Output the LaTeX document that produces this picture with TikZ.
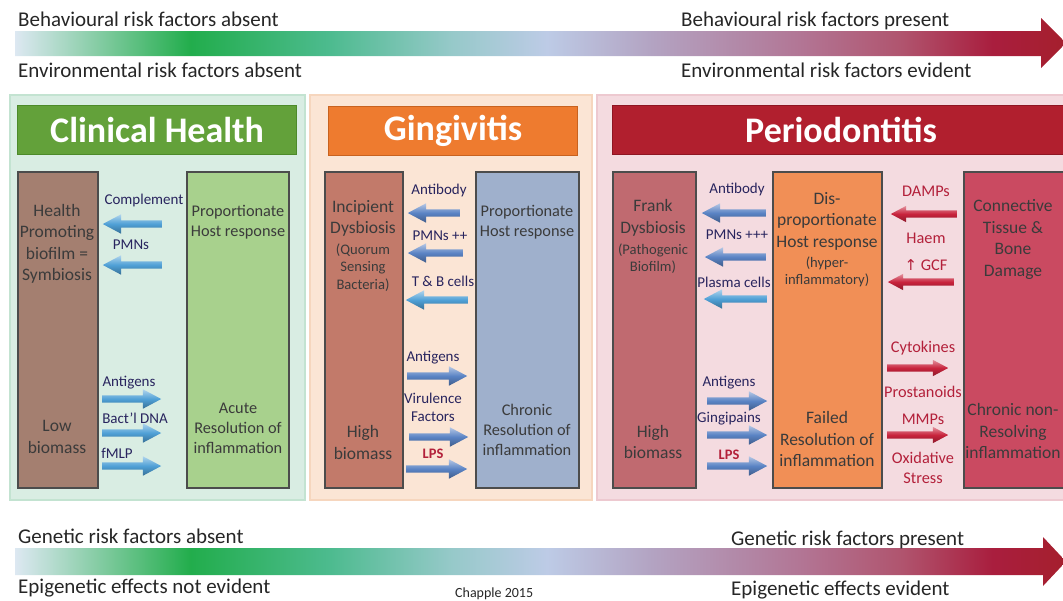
\documentclass[tikz,border=0pt]{standalone}
\usepackage{fontspec}
\setmainfont{Carlito}
\newfontfamily\symbolfont{DejaVu Sans}
\usetikzlibrary{shapes.arrows}

% colours of the panels and columns
\definecolor{healthbg}{HTML}{D9EDE3}
\definecolor{healthedge}{HTML}{C3E3D1}
\definecolor{healthgreen}{HTML}{63A13A}
\definecolor{healthgreendk}{HTML}{4D8A2A}
\definecolor{gingbg}{HTML}{FBE5D5}
\definecolor{gingedge}{HTML}{F6D6BE}
\definecolor{gingorange}{HTML}{EE7B2F}
\definecolor{gingorangedk}{HTML}{C8621F}
\definecolor{periobg}{HTML}{F4DBE0}
\definecolor{perioedge}{HTML}{EDC9D0}
\definecolor{periored}{HTML}{B11F2E}
\definecolor{perioreddk}{HTML}{8E1522}
\definecolor{biobrown}{HTML}{A47F70}
\definecolor{hostgreen}{HTML}{A8D18D}
\definecolor{bioterra}{HTML}{C27A6A}
\definecolor{hostslate}{HTML}{9FB0CC}
\definecolor{biorose}{HTML}{C06A70}
\definecolor{hostorange}{HTML}{F18F56}
\definecolor{damagered}{HTML}{CA4A61}
\definecolor{boxgray}{HTML}{3B3B3B}
\definecolor{labelnavy}{HTML}{28245E}
\definecolor{labelred}{HTML}{B3203A}
\definecolor{arrowblue}{HTML}{5A83C4}
\definecolor{arrowcyan}{HTML}{4FA0D6}
\definecolor{arrowred}{HTML}{C8233C}

% colours of the two risk arrows
\definecolor{riskpale}{HTML}{DDE8F2}
\definecolor{riskgreen}{HTML}{22AD4C}
\definecolor{riskteal}{HTML}{4DBB8F}
\definecolor{riskaqua}{HTML}{96C9C9}
\definecolor{riskblue}{HTML}{BDCBE6}
\definecolor{risklav}{HTML}{B3A3C2}
\definecolor{riskmauve}{HTML}{B27594}
\definecolor{riskrose}{HTML}{B0546E}
\definecolor{riskcrimson}{HTML}{A91E3E}
\definecolor{riskred}{HTML}{A51F2D}

\pgfdeclarehorizontalshading{riskshade}{100bp}{color(0bp)=(riskpale); color(25bp)=(riskpale); color(33.35bp)=(riskgreen); color(40bp)=(riskteal); color(45.75bp)=(riskaqua); color(50.3bp)=(riskblue); color(55.3bp)=(risklav); color(62.45bp)=(riskmauve); color(67.2bp)=(riskrose); color(71.5bp)=(riskcrimson); color(75bp)=(riskred); color(100bp)=(riskred)}

\begin{document}
\begin{tikzpicture}[x=1pt, y=-1pt,
    risktext/.style={anchor=base west, inner sep=0pt, text=black!85, font=\fontsize{21}{25}\selectfont},
    panelbox/.style={line width=2.5pt},
    banner/.style={anchor=north west, line width=1.2pt, minimum height=49pt, text=white, font=\fontsize{36}{40}\selectfont\bfseries},
    column/.style={anchor=north west, draw=black!70, line width=1.6pt, minimum height=316pt},
    bigtext/.style={align=center, text=boxgray, font=\fontsize{17.5}{21.5}\selectfont},
    midtext/.style={align=center, text=boxgray, font=\fontsize{16.3}{20}\selectfont},
    smalltext/.style={align=center, text=boxgray, font=\fontsize{14.6}{17.5}\selectfont},
    bluelabel/.style={align=center, text=labelnavy, font=\fontsize{15}{18}\selectfont},
    redlabel/.style={align=center, text=labelred, font=\fontsize{16.3}{19.5}\selectfont},
    lpslabel/.style={text=labelred, font=\fontsize{14.5}{17}\selectfont\bfseries},
    blockarrow/.style={single arrow, draw=none, inner xsep=0pt, inner ysep=3.5pt, single arrow head extend=6pt, single arrow tip angle=56, anchor=tail},
    toleft/.style={shape border rotate=180},
    bluearrow/.style={blockarrow, top color=arrowblue!45!white, bottom color=arrowblue!70!black, middle color=arrowblue},
    cyanarrow/.style={blockarrow, top color=arrowcyan!45!white, bottom color=arrowcyan!70!black, middle color=arrowcyan},
    redarrow/.style={blockarrow, single arrow head extend=4.5pt, top color=arrowred!50!white, bottom color=arrowred!70!black, middle color=arrowred},
  ]

  % Fix the size of the picture
  \clip (0,0) rectangle (1063,600);

  % Top risk arrow and its texts
  \shade[shading=riskshade] (15,31) -- (1041,31) -- (1041,18) -- (1066,43) -- (1041,68) -- (1041,56) -- (15,56) -- cycle;
  \node[risktext] (beh-absent) at (18,26) {Behavioural risk factors absent};
  \node[risktext] (env-absent) at (18,77) {Environmental risk factors absent};
  \node[risktext] (beh-present) at (681,26) {Behavioural risk factors present};
  \node[risktext] (env-evident) at (681,77) {Environmental risk factors evident};

  % ---------- Clinical Health ----------
  \draw[panelbox, draw=healthedge, fill=healthbg] (10,95) rectangle (305,500);
  \node[banner, fill=healthgreen, draw=healthgreendk, minimum width=279pt] (ch-title) at (17,105) {Clinical Health};
  \node[column, fill=biobrown, minimum width=80pt] (ch-biofilm) at (17,171) {};
  \node[column, fill=hostgreen, minimum width=102pt] (ch-host) at (186,171) {};

  \node[bigtext] (ch-biofilm-top) at (57,244) {Health\\Promoting\\biofilm =\\Symbiosis};
  \node[bigtext] (ch-biofilm-bot) at (57,437) {Low\\biomass};
  \node[midtext] (ch-host-top) at (238,222) {Proportionate\\Host response};
  \node[midtext] (ch-host-bot) at (238,428) {Acute\\Resolution of\\inflammation};

  % host to biofilm
  \node[cyanarrow, toleft, minimum height=59pt] (ch-a1) at (162,224) {};
  \node[cyanarrow, toleft, minimum height=59pt] (ch-a2) at (162,265) {};
  \node[bluelabel] (ch-l1) at (144,200) {Complement};
  \node[bluelabel] (ch-l2) at (131,245) {PMNs};
  % biofilm to host
  \node[cyanarrow, minimum height=59pt] (ch-a3) at (102,399) {};
  \node[cyanarrow, minimum height=59pt] (ch-a4) at (102,433) {};
  \node[cyanarrow, minimum height=59pt] (ch-a5) at (102,466) {};
  \node[bluelabel] (ch-l3) at (129,383) {Antigens};
  \node[bluelabel] (ch-l4) at (135,418) {Bact’l DNA};
  \node[bluelabel] (ch-l5) at (117,453) {fMLP};

  % ---------- Gingivitis ----------
  \draw[panelbox, draw=gingedge, fill=gingbg] (310,95) rectangle (592,500);
  \node[banner, fill=gingorange, draw=gingorangedk, minimum width=249pt] (gg-title) at (328,106) {Gingivitis};
  \node[column, fill=bioterra, minimum width=78pt] (gg-biofilm) at (324,171) {};
  \node[column, fill=hostslate, minimum width=103pt] (gg-host) at (475,171) {};

  \node[bigtext] (gg-biofilm-top) at (363,218.5) {Incipient\\Dysbiosis};
  \node[smalltext] (gg-biofilm-sub) at (363,267.5) {(Quorum\\Sensing\\Bacteria)};
  \node[bigtext] (gg-biofilm-bot) at (363,442.5) {High\\biomass};
  \node[midtext] (gg-host-top) at (527,222) {Proportionate\\Host response};
  \node[midtext] (gg-host-bot) at (527,430) {Chronic\\Resolution of\\inflammation};

  % host to biofilm
  \node[bluearrow, toleft, minimum height=52pt] (gg-a1) at (460,213) {};
  \node[bluearrow, toleft, minimum height=55pt] (gg-a2) at (463,253) {};
  \node[cyanarrow, toleft, minimum height=62pt] (gg-a3) at (468,300) {};
  \node[bluelabel] (gg-l1) at (439,190) {Antibody};
  \node[bluelabel] (gg-l2) at (440,236) {PMNs ++};
  \node[bluelabel] (gg-l3) at (443,281) {T \& B cells};
  % biofilm to host
  \node[bluearrow, minimum height=60pt] (gg-a4) at (407,376) {};
  \node[bluearrow, minimum height=59pt] (gg-a5) at (409,437) {};
  \node[bluearrow, minimum height=61pt] (gg-a6) at (406,469) {};
  \node[bluelabel] (gg-l4) at (433,358) {Antigens};
  \node[bluelabel] (gg-l5) at (433,407.5) {Virulence\\Factors};
  \node[lpslabel] (gg-l6) at (433,454) {LPS};

  % ---------- Periodontitis ----------
  \draw[panelbox, draw=perioedge, fill=periobg] (597,95) rectangle (1075,500);
  \node[banner, fill=periored, draw=perioreddk, minimum width=470pt] (pd-title) at (612,105) {\hspace*{-13pt}Periodontitis};
  \node[column, fill=biorose, minimum width=83pt] (pd-biofilm) at (612,171) {};
  \node[column, fill=hostorange, minimum width=109pt] (pd-host) at (772,171) {};
  \node[column, fill=damagered, minimum width=110pt] (pd-damage) at (963,171) {};

  \node[bigtext] (pd-biofilm-top) at (653,218) {Frank\\Dysbiosis};
  \node[smalltext] (pd-biofilm-sub) at (653,258.5) {(Pathogenic\\Biofilm)};
  \node[bigtext] (pd-biofilm-bot) at (653,442) {High\\biomass};
  \node[bigtext] (pd-host-top) at (827,221) {Dis-\\proportionate\\Host response};
  \node[smalltext] (pd-host-sub) at (827,272) {(hyper-\\inflammatory)};
  \node[bigtext] (pd-host-bot) at (827,439) {Failed\\Resolution of\\inflammation};
  \node[bigtext] (pd-damage-top) at (1013,239.5) {Connective\\Tissue \&\\Bone\\Damage};
  \node[bigtext] (pd-damage-bot) at (1013,431) {Chronic non-\\Resolving\\inflammation};

  % host to biofilm
  \node[bluearrow, toleft, minimum height=64pt] (pd-a1) at (766,213) {};
  \node[bluearrow, toleft, minimum height=61pt] (pd-a2) at (766,257) {};
  \node[cyanarrow, toleft, minimum height=63pt] (pd-a3) at (767,299) {};
  \node[bluelabel] (pd-l1) at (737,189) {Antibody};
  \node[bluelabel] (pd-l2) at (737,235) {PMNs +++};
  \node[bluelabel] (pd-l3) at (734,282) {Plasma cells};
  % biofilm to host
  \node[bluearrow, minimum height=60pt] (pd-a4) at (707,401) {};
  \node[bluearrow, minimum height=60pt] (pd-a5) at (707,435) {};
  \node[bluearrow, minimum height=60pt] (pd-a6) at (707,466) {};
  \node[bluelabel] (pd-l4) at (729,383) {Antigens};
  \node[bluelabel] (pd-l5) at (729,419) {Gingipains};
  \node[lpslabel] (pd-l6) at (729,455) {LPS};
  % damage to host
  \node[redarrow, toleft, minimum height=66pt] (pd-a7) at (957,214) {};
  \node[redarrow, toleft, minimum height=66pt] (pd-a8) at (954,282) {};
  \node[redlabel] (pd-l7) at (926,191) {DAMPs};
  \node[redlabel] (pd-l8) at (926,238) {Haem};
  \node[redlabel] (pd-l9) at (926,265) {{\symbolfont\fontsize{15}{18}\selectfont ↑} GCF};
  % host to damage
  \node[redarrow, minimum height=61pt] (pd-a9) at (887,368) {};
  \node[redarrow, minimum height=61pt] (pd-a10) at (887,435) {};
  \node[redlabel] (pd-l10) at (923,348) {Cytokines};
  \node[redlabel] (pd-l11) at (923,392) {Prostanoids};
  \node[redlabel] (pd-l12) at (923,419) {MMPs};
  \node[redlabel] (pd-l13) at (923,468) {Oxidative\\Stress};

  % Bottom risk arrow and its texts
  \shade[shading=riskshade] (15,548) -- (1043,548) -- (1043,537) -- (1066,561.5) -- (1043,586) -- (1043,575) -- (15,575) -- cycle;
  \node[risktext] (gen-absent) at (18,543) {Genetic risk factors absent};
  \node[risktext] (epi-absent) at (18,593) {Epigenetic effects not evident};
  \node[risktext] (gen-present) at (731,545) {Genetic risk factors present};
  \node[risktext] (epi-evident) at (731,595) {Epigenetic effects evident};
  \node[anchor=base west, inner sep=0pt, text=black!85, font=\fontsize{14}{16}\selectfont] (credit) at (455,597) {Chapple 2015};

\end{tikzpicture}
\end{document}
